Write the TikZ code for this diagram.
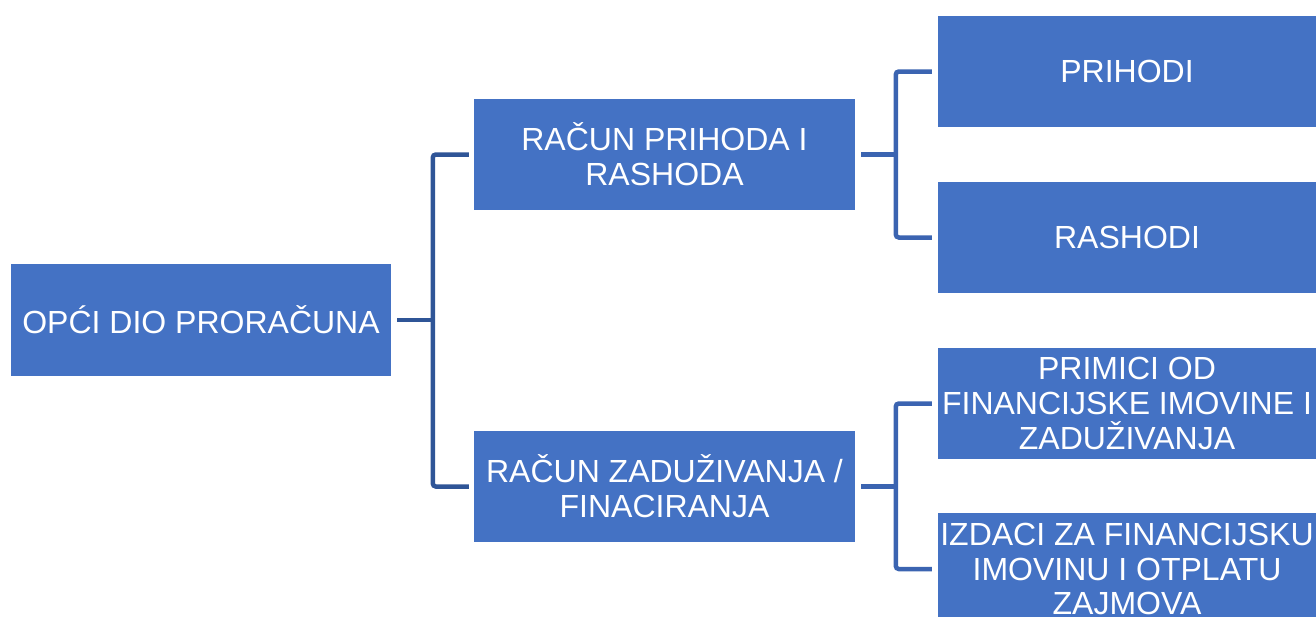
\documentclass[tikz,border=0pt]{standalone}
\usepackage{fontspec}
\setmainfont{Liberation Sans}
\definecolor{boxblue}{HTML}{4472C4}
\definecolor{linedark}{HTML}{2F5597}
\definecolor{linemid}{HTML}{3B64B1}
\begin{document}
\begin{tikzpicture}[x=1pt,y=-1pt,
  box/.style={fill=boxblue, draw=none, text=white, align=center, inner sep=0pt,
    font=\fontsize{32}{34.7}\selectfont},
  lconn/.style={draw=linedark, line width=4.5pt, rounded corners=3pt},
  rconn/.style={draw=linemid, line width=4.5pt, rounded corners=3pt}]
\useasboundingbox (0,0) rectangle (1316,616);
\clip (0,0) rectangle (1316,616);
\node[box, minimum width=380pt, minimum height=112pt] (root) at (201,320) {OPĆI DIO PRORAČUNA};
\node[box, minimum width=381pt, minimum height=111pt] (mid1) at (664.5,154.5) {RAČUN PRIHODA I\\RASHODA};
\node[box, minimum width=381pt, minimum height=111pt] (mid2) at (664.5,486.5) {RAČUN ZADUŽIVANJA /\\FINACIRANJA};
\node[box, minimum width=378pt, minimum height=111pt] (r1) at (1127,71.5) {PRIHODI};
\node[box, minimum width=378pt, minimum height=111pt] (r2) at (1127,237.5) {RASHODI};
\node[box, minimum width=378pt, minimum height=111pt] (r3) at (1127,403.5) {PRIMICI OD\\FINANCIJSKE IMOVINE I\\ZADUŽIVANJA};
\node[box, minimum width=378pt, minimum height=112pt] (r4) at (1127,569) {IZDACI ZA FINANCIJSKU\\IMOVINU I OTPLATU\\ZAJMOVA};
\draw[lconn] ([xshift=6pt]root.east) -- ++(36,0);
\draw[lconn] ([xshift=-5pt]mid1.west) -| ([xshift=-41pt]mid2.west) -- ([xshift=-5pt]mid2.west);
\draw[rconn] ([xshift=6pt]mid1.east) -- ++(35,0);
\draw[rconn] ([xshift=-6pt]r1.west) -| ([xshift=-42pt]r2.west) -- ([xshift=-6pt]r2.west);
\draw[rconn] ([xshift=6pt]mid2.east) -- ++(35,0);
\draw[rconn] ([xshift=-6pt]r3.west) -| ([xshift=-42pt]r4.west) -- ([xshift=-6pt]r4.west);
\end{tikzpicture}
\end{document}
